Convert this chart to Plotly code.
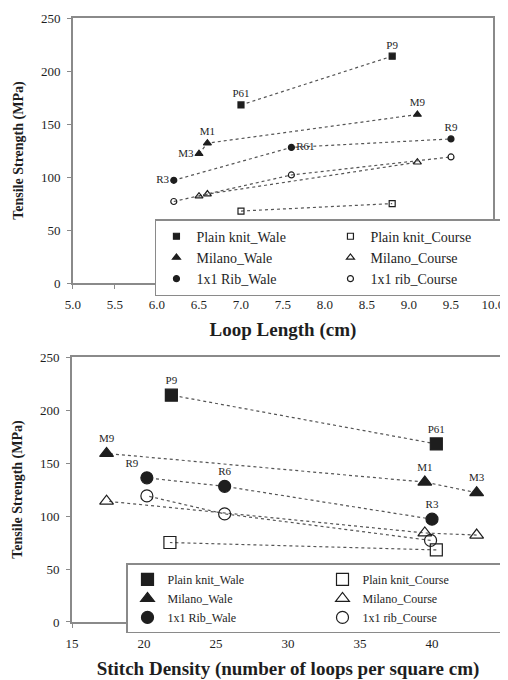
import plotly.graph_objects as go

# ---- data ----
series_names = ["Plain knit_Wale", "Plain knit_Course", "Milano_Wale",
                "Milano_Course", "1x1 Rib_Wale", "1x1 rib_Course"]

# loop length (cm) for top chart
loop_plain_wale = [7.0, 8.8]
loop_plain_course = [7.0, 8.8]
loop_milano_wale = [6.5, 6.6, 9.1]
loop_milano_course = [6.5, 6.6, 9.1]
loop_rib_wale = [6.2, 7.6, 9.5]
loop_rib_course = [6.2, 7.6, 9.5]

# stitch density for bottom chart
dens_plain_wale = [40.3, 21.9]
dens_plain_course = [40.3, 21.8]
dens_milano_wale = [43.1, 39.5, 17.4]
dens_milano_course = [43.1, 39.5, 17.4]
dens_rib_wale = [40.0, 25.6, 20.2]
dens_rib_course = [39.9, 25.6, 20.2]

# tensile strength (MPa)
ts_plain_wale = [168, 214]
ts_plain_course = [68, 75]
ts_milano_wale = [122, 132, 159]
ts_milano_course = [82, 84, 114]
ts_rib_wale = [97, 128, 136]
ts_rib_course = [77, 102, 119]

lab_plain = ["P61", "P9"]
lab_milano = ["M3", "M1", "M9"]
lab_rib_top = ["R3", "R61", "R9"]
lab_rib_bot = ["R3", "R6", "R9"]

x1_ticks = [5.0, 5.5, 6.0, 6.5, 7.0, 7.5, 8.0, 8.5, 9.0, 9.5, 10.0]
x2_ticks = [15, 20, 25, 30, 35, 40, 45]
y_ticks = [0, 50, 100, 150, 200, 250]

FONT = "Liberation Serif"
DARK = "#1e1e1e"
LINE = "#555555"
AX = "#8a8a8a"

fig = go.Figure()


def add(x, y, name, symbol, size, xa, ya, legend, text=None, tpos=None):
    # dotted connecting line (kept out of legend)
    fig.add_trace(go.Scatter(
        x=x, y=y, mode="lines", showlegend=False, hoverinfo="skip",
        line=dict(color=LINE, width=1.2, dash="dot"),
        xaxis=xa, yaxis=ya, legend=legend,
    ))
    fig.add_trace(go.Scatter(
        x=x, y=y, name=name,
        mode="markers+text" if text else "markers",
        text=text, textposition=tpos,
        textfont=dict(family=FONT, size=11, color=DARK),
        marker=dict(symbol=symbol, size=size, color=DARK,
                    line=dict(color=DARK, width=1.2)),
        xaxis=xa, yaxis=ya, legend=legend,
    ))


# top chart
add(loop_plain_wale, ts_plain_wale, series_names[0], "square", 6, "x", "y", "legend",
    lab_plain, ["top center", "top center"])
add(loop_plain_course, ts_plain_course, series_names[1], "square-open", 6, "x", "y", "legend")
add(loop_milano_wale, ts_milano_wale, series_names[2], "triangle-up", 7, "x", "y", "legend",
    lab_milano, ["middle left", "top center", "top center"])
add(loop_milano_course, ts_milano_course, series_names[3], "triangle-up-open", 7, "x", "y", "legend")
add(loop_rib_wale, ts_rib_wale, series_names[4], "circle", 6, "x", "y", "legend",
    lab_rib_top, ["middle left", "middle right", "top center"])
add(loop_rib_course, ts_rib_course, series_names[5], "circle-open", 6, "x", "y", "legend")

# bottom chart
add(dens_plain_wale, ts_plain_wale, series_names[0], "square", 12, "x2", "y2", "legend2",
    lab_plain, ["top center", "top center"])
add(dens_plain_course, ts_plain_course, series_names[1], "square-open", 12, "x2", "y2", "legend2")
add(dens_milano_wale, ts_milano_wale, series_names[2], "triangle-up", 12, "x2", "y2", "legend2",
    lab_milano, ["top center", "top center", "top center"])
add(dens_milano_course, ts_milano_course, series_names[3], "triangle-up-open", 12, "x2", "y2", "legend2")
add(dens_rib_wale, ts_rib_wale, series_names[4], "circle", 12, "x2", "y2", "legend2",
    lab_rib_bot, ["top center", "top center", "top left"])
add(dens_rib_course, ts_rib_course, series_names[5], "circle-open", 12, "x2", "y2", "legend2")

axis_common = dict(showline=True, linecolor=AX, linewidth=2, mirror=True,
                   ticks="outside", ticklen=4, tickcolor=AX, showgrid=False, zeroline=False,
                   automargin=False, ticklabelstandoff=4,
                   tickfont=dict(family=FONT, size=13, color=DARK))
ytitle_font = dict(family=FONT, size=14, color=DARK)

# the page body adds an 8px offset, so the figure is 8px smaller than the window
fig.update_layout(
    width=500, height=672,
    margin=dict(l=64, r=4, t=10, b=58, autoexpand=False),
    paper_bgcolor="white", plot_bgcolor="white",
    font=dict(family=FONT, color=DARK),
    xaxis=dict(domain=[0.0023, 0.9745], anchor="y", range=[5, 10], tickvals=x1_ticks,
               ticktext=[f"{v:.1f}" for v in x1_ticks],
               title=dict(text="<b>Loop Length (cm)</b>",
                          font=dict(family=FONT, size=19, color=DARK), standoff=12),
               **axis_common),
    yaxis=dict(domain=[0.561, 1.0], anchor="x", range=[0, 250], tickvals=y_ticks,
               title=dict(text="<b>Tensile Strength (MPa)</b>", font=ytitle_font, standoff=14),
               **axis_common),
    xaxis2=dict(domain=[0.0, 1.0], anchor="y2", range=[15, 45], tickvals=x2_ticks,
                title=dict(text="<b>Stitch Density (number of loops per square cm)</b>",
                           font=dict(family=FONT, size=19, color=DARK), standoff=14),
                **axis_common),
    yaxis2=dict(domain=[0.0, 0.4387], anchor="x2", range=[0, 250], tickvals=y_ticks,
                title=dict(text="<b>Tensile Strength (MPa)</b>", font=ytitle_font, standoff=14),
                **axis_common),
    legend=dict(x=0.192, y=0.667, xanchor="left", yanchor="top", orientation="h",
                entrywidth=129, bgcolor="white", bordercolor=AX, borderwidth=1.5,
                font=dict(family=FONT, size=14, color=DARK), itemsizing="trace"),
    legend2=dict(x=0.125, y=0.097, xanchor="left", yanchor="top", orientation="h",
                 entrywidth=150, bgcolor="white", bordercolor=AX, borderwidth=1.5,
                 font=dict(family=FONT, size=12, color=DARK), itemsizing="trace"),
)

fig.write_html("out.html")
